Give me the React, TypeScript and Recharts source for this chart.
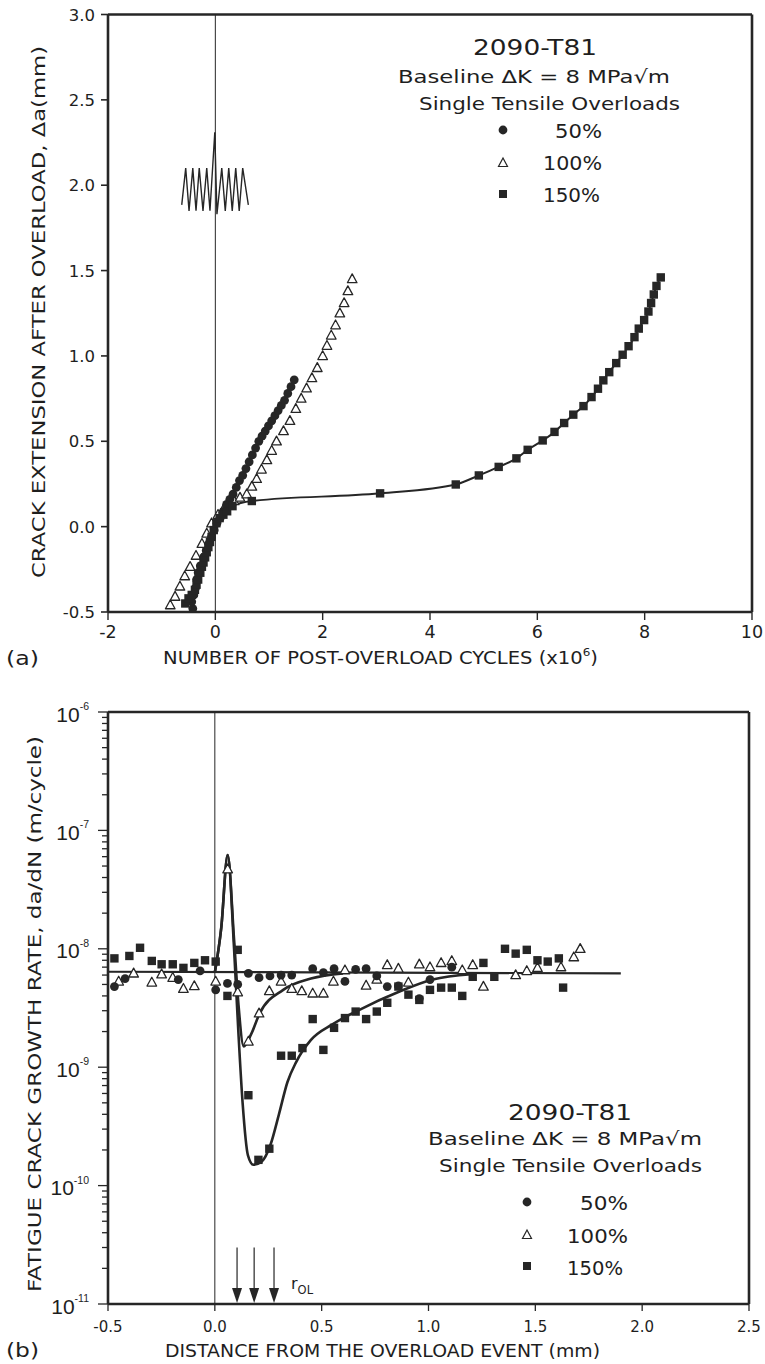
import React from 'react';
import { ComposedChart, XAxis, YAxis, Scatter, Line, ReferenceLine, ReferenceDot } from 'recharts';

const INK = '#262626';
const FONT = '"DejaVu Sans", "Liberation Sans", sans-serif';

// ---------- Chart (a): crack extension vs post-overload cycles ----------
const cycleTicksA = [-2, 0, 2, 4, 6, 8, 10];
const extTicksA = [-0.5, 0, 0.5, 1.0, 1.5, 2.0, 2.5, 3.0];

const ext50A = [
  { x: -0.42, y: -0.48 }, { x: -0.44, y: -0.44 }, { x: -0.40, y: -0.40 }, { x: -0.37, y: -0.36 },
  { x: -0.35, y: -0.31 }, { x: -0.32, y: -0.27 }, { x: -0.28, y: -0.23 }, { x: -0.22, y: -0.18 },
  { x: -0.17, y: -0.14 }, { x: -0.12, y: -0.10 }, { x: -0.07, y: -0.06 }, { x: -0.02, y: -0.02 },
  { x: 0.03, y: 0.02 }, { x: 0.09, y: 0.05 }, { x: 0.15, y: 0.09 }, { x: 0.21, y: 0.13 },
  { x: 0.27, y: 0.16 }, { x: 0.33, y: 0.19 }, { x: 0.39, y: 0.23 }, { x: 0.45, y: 0.27 },
  { x: 0.51, y: 0.30 }, { x: 0.57, y: 0.34 }, { x: 0.63, y: 0.38 }, { x: 0.69, y: 0.42 },
  { x: 0.75, y: 0.46 }, { x: 0.81, y: 0.50 }, { x: 0.87, y: 0.53 }, { x: 0.93, y: 0.56 },
  { x: 0.99, y: 0.59 }, { x: 1.05, y: 0.62 }, { x: 1.11, y: 0.65 }, { x: 1.17, y: 0.68 },
  { x: 1.23, y: 0.71 }, { x: 1.29, y: 0.74 }, { x: 1.35, y: 0.78 }, { x: 1.41, y: 0.82 },
  { x: 1.47, y: 0.86 },
];

const ext100A = [
  { x: -0.84, y: -0.46 }, { x: -0.75, y: -0.41 }, { x: -0.66, y: -0.35 }, { x: -0.57, y: -0.29 },
  { x: -0.47, y: -0.235 }, { x: -0.36, y: -0.17 }, { x: -0.25, y: -0.10 }, { x: -0.16, y: -0.04 },
  { x: -0.07, y: 0.02 }, { x: 0.05, y: 0.07 }, { x: 0.15, y: 0.10 }, { x: 0.25, y: 0.13 },
  { x: 0.35, y: 0.15 }, { x: 0.46, y: 0.17 }, { x: 0.585, y: 0.19 }, { x: 0.68, y: 0.235 },
  { x: 0.77, y: 0.28 }, { x: 0.86, y: 0.335 }, { x: 0.96, y: 0.39 }, { x: 1.05, y: 0.445 },
  { x: 1.14, y: 0.50 }, { x: 1.27, y: 0.56 }, { x: 1.39, y: 0.62 }, { x: 1.50, y: 0.69 },
  { x: 1.60, y: 0.75 }, { x: 1.70, y: 0.81 }, { x: 1.80, y: 0.87 }, { x: 1.90, y: 0.93 },
  { x: 2.00, y: 1.00 }, { x: 2.08, y: 1.06 }, { x: 2.16, y: 1.12 }, { x: 2.24, y: 1.18 },
  { x: 2.32, y: 1.25 }, { x: 2.40, y: 1.31 }, { x: 2.47, y: 1.38 }, { x: 2.55, y: 1.45 },
];

const ext150A = [
  { x: -0.56, y: -0.45 }, { x: -0.50, y: -0.42 }, { x: -0.44, y: -0.40 }, { x: -0.38, y: -0.37 },
  { x: -0.35, y: -0.34 }, { x: -0.32, y: -0.31 }, { x: -0.28, y: -0.27 }, { x: -0.25, y: -0.235 },
  { x: -0.22, y: -0.21 }, { x: -0.19, y: -0.18 }, { x: -0.16, y: -0.15 }, { x: -0.13, y: -0.12 },
  { x: -0.10, y: -0.09 }, { x: -0.07, y: -0.06 }, { x: -0.03, y: -0.02 }, { x: 0.02, y: 0.02 },
  { x: 0.08, y: 0.05 }, { x: 0.15, y: 0.07 }, { x: 0.22, y: 0.09 }, { x: 0.32, y: 0.12 },
  { x: 0.68, y: 0.15 }, { x: 3.07, y: 0.195 }, { x: 4.48, y: 0.247 }, { x: 4.91, y: 0.30 },
  { x: 5.28, y: 0.35 }, { x: 5.61, y: 0.40 }, { x: 5.82, y: 0.45 }, { x: 6.10, y: 0.505 },
  { x: 6.32, y: 0.555 }, { x: 6.50, y: 0.607 }, { x: 6.67, y: 0.656 }, { x: 6.86, y: 0.706 },
  { x: 7.01, y: 0.759 }, { x: 7.13, y: 0.808 }, { x: 7.23, y: 0.857 }, { x: 7.34, y: 0.905 },
  { x: 7.47, y: 0.958 }, { x: 7.59, y: 1.007 }, { x: 7.70, y: 1.057 }, { x: 7.81, y: 1.11 },
  { x: 7.89, y: 1.16 }, { x: 7.99, y: 1.21 }, { x: 8.07, y: 1.26 }, { x: 8.12, y: 1.31 },
  { x: 8.17, y: 1.36 }, { x: 8.22, y: 1.41 }, { x: 8.30, y: 1.46 },
];

// overload loading-history glyph (cyclic load with one overload spike)
const loadGlyphA = [
  { x: -0.626, y: 1.885 }, { x: -0.552, y: 2.10 }, { x: -0.49, y: 1.85 }, { x: -0.42, y: 2.10 },
  { x: -0.36, y: 1.85 }, { x: -0.30, y: 2.10 }, { x: -0.23, y: 1.85 }, { x: -0.16, y: 2.10 },
  { x: -0.10, y: 1.85 }, { x: -0.01, y: 2.31 }, { x: 0.03, y: 1.83 }, { x: 0.12, y: 2.10 },
  { x: 0.185, y: 1.85 }, { x: 0.25, y: 2.10 }, { x: 0.315, y: 1.85 }, { x: 0.38, y: 2.10 },
  { x: 0.445, y: 1.85 }, { x: 0.51, y: 2.10 }, { x: 0.615, y: 1.885 },
];

// ---------- Chart (b): growth rate vs distance ----------
const distTicksB = [-0.5, 0.0, 0.5, 1.0, 1.5, 2.0, 2.5];
const rateMajorB = [1e-11, 1e-10, 1e-9, 1e-8, 1e-7, 1e-6];
const rateMinorMult = [2, 3, 4, 5, 6, 7, 8, 9];

const rate50B = [
  { x: -0.47, y: 4.8e-9 }, { x: -0.42, y: 5.6e-9 }, { x: -0.171, y: 5.5e-9 }, { x: -0.069, y: 6.5e-9 },
  { x: 0.004, y: 4.5e-9 }, { x: 0.059, y: 5.1e-9 }, { x: 0.107, y: 5.0e-9 }, { x: 0.157, y: 6.2e-9 },
  { x: 0.207, y: 5.7e-9 }, { x: 0.258, y: 5.9e-9 }, { x: 0.31, y: 6.0e-9 }, { x: 0.36, y: 6.0e-9 },
  { x: 0.458, y: 6.8e-9 }, { x: 0.508, y: 6.3e-9 }, { x: 0.558, y: 6.8e-9 }, { x: 0.609, y: 5.3e-9 },
  { x: 0.659, y: 6.7e-9 }, { x: 0.708, y: 6.8e-9 }, { x: 0.758, y: 5.9e-9 }, { x: 0.807, y: 4.8e-9 },
  { x: 0.859, y: 4.85e-9 }, { x: 0.957, y: 3.8e-9 }, { x: 1.007, y: 5.5e-9 }, { x: 1.109, y: 7.0e-9 },
];

const rate100B = [
  { x: -0.45, y: 5.3e-9 }, { x: -0.38, y: 6.2e-9 }, { x: -0.295, y: 5.2e-9 }, { x: -0.249, y: 6.1e-9 },
  { x: -0.197, y: 5.7e-9 }, { x: -0.147, y: 4.6e-9 }, { x: -0.096, y: 4.85e-9 }, { x: 0.004, y: 5.3e-9 },
  { x: 0.06, y: 4.7e-8 }, { x: 0.107, y: 4.3e-9 }, { x: 0.157, y: 1.65e-9 }, { x: 0.207, y: 2.85e-9 },
  { x: 0.255, y: 4.4e-9 }, { x: 0.31, y: 5.3e-9 }, { x: 0.36, y: 4.6e-9 }, { x: 0.407, y: 4.4e-9 },
  { x: 0.458, y: 4.2e-9 }, { x: 0.508, y: 4.2e-9 }, { x: 0.555, y: 5.3e-9 }, { x: 0.609, y: 6.6e-9 },
  { x: 0.708, y: 4.9e-9 }, { x: 0.758, y: 5.5e-9 }, { x: 0.807, y: 7.3e-9 }, { x: 0.859, y: 6.8e-9 },
  { x: 0.906, y: 5.2e-9 }, { x: 0.957, y: 7.4e-9 }, { x: 1.007, y: 7.0e-9 }, { x: 1.059, y: 7.6e-9 },
  { x: 1.109, y: 7.9e-9 }, { x: 1.158, y: 6.6e-9 }, { x: 1.207, y: 7.3e-9 }, { x: 1.257, y: 4.8e-9 },
  { x: 1.408, y: 6.0e-9 }, { x: 1.46, y: 6.5e-9 }, { x: 1.51, y: 6.9e-9 }, { x: 1.62, y: 7.0e-9 },
  { x: 1.68, y: 8.5e-9 }, { x: 1.71, y: 1.0e-8 },
];

const rate150B = [
  { x: -0.47, y: 8.3e-9 }, { x: -0.40, y: 8.7e-9 }, { x: -0.35, y: 1.02e-8 }, { x: -0.295, y: 7.9e-9 },
  { x: -0.249, y: 7.4e-9 }, { x: -0.197, y: 7.4e-9 }, { x: -0.147, y: 6.9e-9 }, { x: -0.096, y: 7.6e-9 },
  { x: -0.046, y: 8.0e-9 }, { x: 0.004, y: 7.8e-9 }, { x: 0.059, y: 4.0e-9 }, { x: 0.107, y: 9.8e-9 },
  { x: 0.157, y: 5.8e-10 }, { x: 0.204, y: 1.65e-10 }, { x: 0.255, y: 2.05e-10 }, { x: 0.31, y: 1.25e-9 },
  { x: 0.36, y: 1.25e-9 }, { x: 0.41, y: 1.45e-9 }, { x: 0.458, y: 2.55e-9 }, { x: 0.508, y: 1.4e-9 },
  { x: 0.558, y: 2.15e-9 }, { x: 0.609, y: 2.6e-9 }, { x: 0.659, y: 2.95e-9 }, { x: 0.708, y: 2.55e-9 },
  { x: 0.758, y: 2.95e-9 }, { x: 0.807, y: 3.5e-9 }, { x: 0.859, y: 4.8e-9 }, { x: 0.906, y: 4.1e-9 },
  { x: 0.957, y: 3.7e-9 }, { x: 1.007, y: 4.5e-9 }, { x: 1.059, y: 4.7e-9 }, { x: 1.109, y: 4.7e-9 },
  { x: 1.158, y: 4.0e-9 }, { x: 1.207, y: 5.8e-9 }, { x: 1.257, y: 7.6e-9 }, { x: 1.308, y: 5.8e-9 },
  { x: 1.358, y: 1.0e-8 }, { x: 1.408, y: 9.1e-9 }, { x: 1.46, y: 9.8e-9 }, { x: 1.51, y: 8.0e-9 },
  { x: 1.558, y: 7.8e-9 }, { x: 1.61, y: 8.3e-9 }, { x: 1.63, y: 4.7e-9 },
];

const baselineFitB = [{ x: -0.5, y: 6.4e-9 }, { x: 1.9, y: 6.2e-9 }];
const fit100B = [
  { x: 0.0, y: 6.3e-9 }, { x: 0.03, y: 1.5e-8 }, { x: 0.06, y: 6.2e-8 }, { x: 0.09, y: 1.2e-8 },
  { x: 0.11, y: 3.5e-9 }, { x: 0.135, y: 1.5e-9 }, { x: 0.17, y: 1.9e-9 }, { x: 0.21, y: 2.85e-9 },
  { x: 0.32, y: 4.5e-9 }, { x: 0.45, y: 5.6e-9 }, { x: 0.6, y: 6.2e-9 },
];
const fit150B = [
  { x: 0.0, y: 6.3e-9 }, { x: 0.03, y: 1.5e-8 }, { x: 0.06, y: 6.2e-8 }, { x: 0.09, y: 1.0e-8 },
  { x: 0.11, y: 2.0e-9 }, { x: 0.13, y: 5.0e-10 }, { x: 0.155, y: 1.8e-10 }, { x: 0.18, y: 1.5e-10 },
  { x: 0.22, y: 1.6e-10 }, { x: 0.26, y: 2.2e-10 }, { x: 0.30, y: 4.0e-10 }, { x: 0.34, y: 7.5e-10 },
  { x: 0.38, y: 1.1e-9 }, { x: 0.45, y: 1.7e-9 }, { x: 0.55, y: 2.3e-9 }, { x: 0.66, y: 2.95e-9 },
  { x: 0.87, y: 4.4e-9 }, { x: 1.02, y: 5.5e-9 }, { x: 1.2, y: 6.1e-9 },
];
// overload plastic-zone sizes r_OL (mm) for 50%, 100%, 150%
const rOL = [0.104, 0.184, 0.277];

// ---------- marker shapes ----------
const dotShape = (p: any) => <circle cx={p.cx} cy={p.cy} r={4.4} fill={INK} />;
const triShape = (p: any) => (
  <polygon
    points={`${p.cx},${p.cy - 5.2} ${p.cx - 4.8},${p.cy + 3.6} ${p.cx + 4.8},${p.cy + 3.6}`}
    fill="#fff" stroke={INK} strokeWidth={1.3} strokeLinejoin="round"
  />
);
const sqShape = (p: any) => <rect x={p.cx - 4.2} y={p.cy - 4.2} width={8.4} height={8.4} fill={INK} />;

// ---------- ticks ----------
const TickYA = (p: any) => (
  <g>
    <line x1={p.x - 7} x2={p.x} y1={p.y} y2={p.y} stroke={INK} strokeWidth={1.6} />
    <text x={p.x - 13} y={p.y + 6} textAnchor="end" fontSize={16.5} fontFamily={FONT} fill="#1e1e1e">
      {Number(p.payload.value).toFixed(1)}
    </text>
  </g>
);
const TickXA = (p: any) => (
  <g>
    <line x1={p.x} x2={p.x} y1={p.y} y2={p.y + 8} stroke={INK} strokeWidth={1.4} />
    <text x={p.x} y={p.y + 26} textAnchor="middle" fontSize={17.5} fontFamily={FONT} fill="#1e1e1e">
      {p.payload.value}
    </text>
  </g>
);
const TickYB = (p: any) => {
  const v = Number(p.payload.value);
  const e = Math.round(Math.log10(v));
  const major = Math.abs(v - Math.pow(10, e)) / v < 1e-6;
  return (
    <g>
      <line x1={p.x - (major ? 10 : 6)} x2={p.x} y1={p.y} y2={p.y} stroke={INK} strokeWidth={1.3} />
      {major && (
        <text x={p.x - 19} y={p.y + 9.5} textAnchor="end" fontSize={21}
          fontFamily='"Liberation Sans", Arial, sans-serif' fill="#1e1e1e">
          10<tspan dy={-11.5} fontSize={10.5}>{String(e)}</tspan>
        </text>
      )}
    </g>
  );
};
const TickXB = (p: any) => (
  <g>
    <line x1={p.x} x2={p.x} y1={p.y} y2={p.y + 7} stroke={INK} strokeWidth={1.3} />
    <text x={p.x} y={p.y + 28} textAnchor="middle" fontSize={15} fontFamily={FONT} fill="#1e1e1e">
      {Number(p.payload.value).toFixed(1)}
    </text>
  </g>
);

const rateTicksB: number[] = [];
rateMajorB.forEach((m, i) => {
  rateTicksB.push(m);
  if (i < rateMajorB.length - 1) rateMinorMult.forEach((k) => rateTicksB.push(m * k));
});

const arrowHead = (p: any) => (
  <polygon points={`${p.cx - 5},${p.cy - 16} ${p.cx + 5},${p.cy - 16} ${p.cx},${p.cy - 1}`} fill={INK} />
);

function ChartA() {
  return (
    <ComposedChart width={765} height={680} margin={{ top: 14.5, right: 13, bottom: 28, left: 48 }}>
      <XAxis type="number" dataKey="x" domain={[-2, 10]} ticks={cycleTicksA} interval={0}
        allowDataOverflow tickLine={false} tickSize={0} tickMargin={0} height={40}
        axisLine={{ stroke: INK, strokeWidth: 2.6 }} tick={<TickXA />} />
      <YAxis type="number" dataKey="y" domain={[-0.5, 3]} ticks={extTicksA} interval={0}
        allowDataOverflow tickLine={false} tickSize={0} tickMargin={0} width={60}
        axisLine={{ stroke: INK, strokeWidth: 2.6 }} tick={<TickYA />} />
      <ReferenceLine y={3} stroke={INK} strokeWidth={2.6} />
      <ReferenceLine x={10} stroke={INK} strokeWidth={2.6} />
      <ReferenceLine x={0} stroke={INK} strokeWidth={1} />
      <Line data={loadGlyphA} dataKey="y" type="linear" stroke={INK} strokeWidth={1.4}
        dot={false} isAnimationActive={false} />
      <Line data={ext150A} dataKey="y" type="monotone" stroke={INK} strokeWidth={2}
        dot={false} isAnimationActive={false} />
      <Scatter data={ext100A} dataKey="y" shape={triShape} isAnimationActive={false} />
      <Scatter data={ext50A} dataKey="y" shape={dotShape} isAnimationActive={false} />
      <Scatter data={ext150A} dataKey="y" shape={sqShape} isAnimationActive={false} />
    </ComposedChart>
  );
}

function ChartB() {
  return (
    <ComposedChart width={765} height={684} margin={{ top: 32, right: 16, bottom: 20, left: 48 }}>
      <XAxis type="number" dataKey="x" domain={[-0.5, 2.5]} ticks={distTicksB} interval={0}
        allowDataOverflow tickLine={false} tickSize={0} tickMargin={0} height={40}
        axisLine={{ stroke: INK, strokeWidth: 2.6 }} tick={<TickXB />} />
      <YAxis type="number" dataKey="y" scale="log" domain={[1e-11, 1e-6]} ticks={rateTicksB}
        interval={0} allowDataOverflow tickLine={false} tickSize={0} tickMargin={0} width={60}
        axisLine={{ stroke: INK, strokeWidth: 2.6 }} tick={<TickYB />} />
      <ReferenceLine y={1e-6} stroke={INK} strokeWidth={2.6} />
      <ReferenceLine x={2.5} stroke={INK} strokeWidth={2.6} />
      <ReferenceLine x={0} stroke={INK} strokeWidth={1} />
      {rOL.map((r) => (
        <ReferenceLine key={'l' + r} segment={[{ x: r, y: 3.0e-11 }, { x: r, y: 1.3e-11 }]}
          stroke={INK} strokeWidth={1.2} />
      ))}
      {rOL.map((r) => (
        <ReferenceDot key={'d' + r} x={r} y={1e-11} shape={arrowHead} />
      ))}
      <Line data={baselineFitB} dataKey="y" type="linear" stroke={INK} strokeWidth={2.2}
        dot={false} isAnimationActive={false} />
      <Line data={fit150B} dataKey="y" type="monotone" stroke={INK} strokeWidth={2.6}
        dot={false} isAnimationActive={false} />
      <Line data={fit100B} dataKey="y" type="monotone" stroke={INK} strokeWidth={2.6}
        dot={false} isAnimationActive={false} />
      <Scatter data={rate100B} dataKey="y" shape={triShape} isAnimationActive={false} />
      <Scatter data={rate50B} dataKey="y" shape={dotShape} isAnimationActive={false} />
      <Scatter data={rate150B} dataKey="y" shape={sqShape} isAnimationActive={false} />
    </ComposedChart>
  );
}

const T = (props: any) => <text fontFamily={FONT} fill="#1e1e1e" {...props} />;

function LegendBlock({ cx, titleY, lines, markX, rows }: any) {
  return (
    <g>
      <T x={cx} y={titleY} fontSize={21} textAnchor="middle" textLength={124} lengthAdjust="spacingAndGlyphs">2090-T81</T>
      <T x={lines[0].x} y={lines[0].y} fontSize={18.5} textLength={lines[0].w} lengthAdjust="spacingAndGlyphs">Baseline ΔK = 8 MPa√m</T>
      <T x={lines[1].x} y={lines[1].y} fontSize={18.5} textLength={lines[1].w} lengthAdjust="spacingAndGlyphs">Single Tensile Overloads</T>
      <circle cx={markX} cy={rows[0].my} r={4.4} fill={INK} />
      <polygon points={`${markX},${rows[1].my - 5} ${markX - 4.5},${rows[1].my + 3.5} ${markX + 4.5},${rows[1].my + 3.5}`} fill="#fff" stroke={INK} strokeWidth={1.2} />
      <rect x={markX - 4} y={rows[2].my - 4} width={8} height={8} fill={INK} />
      <T x={rows[0].tx} y={rows[0].ty} fontSize={19.5} textLength={rows[0].w} lengthAdjust="spacingAndGlyphs">50%</T>
      <T x={rows[1].tx} y={rows[1].ty} fontSize={19.5} textLength={rows[1].w} lengthAdjust="spacingAndGlyphs">100%</T>
      <T x={rows[2].tx} y={rows[2].ty} fontSize={19.5} textLength={rows[2].w} lengthAdjust="spacingAndGlyphs">150%</T>
    </g>
  );
}

export default function App() {
  return (
    <div style={{ position: 'absolute', left: 0, top: 0, width: 765, height: 1364, background: '#fff' }}>
      <div style={{ position: 'absolute', left: 0, top: 0 }}><ChartA /></div>
      <div style={{ position: 'absolute', left: 0, top: 680 }}><ChartB /></div>
      <svg width={765} height={1364} style={{ position: 'absolute', left: 0, top: 0, pointerEvents: 'none' }}>
        {/* axis titles */}
        <T transform="translate(45,312) rotate(-90)" fontSize={17} textAnchor="middle" textLength={532} lengthAdjust="spacingAndGlyphs">CRACK EXTENSION AFTER OVERLOAD, Δa(mm)</T>
        <T x={163} y={664} fontSize={18} textLength={435} lengthAdjust="spacingAndGlyphs">NUMBER OF POST-OVERLOAD CYCLES (x10<tspan dy={-8} fontSize={11}>6</tspan><tspan dy={8}>)</tspan></T>
        <T x={6} y={665} fontSize={20} textLength={33} lengthAdjust="spacingAndGlyphs">(a)</T>
        <T transform="translate(41,1014) rotate(-90)" fontSize={18.5} textAnchor="middle" textLength={556} lengthAdjust="spacingAndGlyphs">FATIGUE CRACK GROWTH RATE, da/dN (m/cycle)</T>
        <T x={165} y={1357} fontSize={18} textLength={435} lengthAdjust="spacingAndGlyphs">DISTANCE FROM THE OVERLOAD EVENT (mm)</T>
        <T x={6} y={1357} fontSize={20} textLength={33} lengthAdjust="spacingAndGlyphs">(b)</T>
        {/* r_OL label */}
        <T x={291} y={1289} fontSize={16}>r<tspan dy={5} fontSize={11.5}>OL</tspan></T>
        {/* legend/annotation blocks */}
        <LegendBlock cx={535} titleY={55}
          lines={[{ x: 398, y: 83, w: 272 }, { x: 419, y: 110, w: 261 }]}
          markX={503}
          rows={[{ my: 130, tx: 555, ty: 138, w: 47 }, { my: 163, tx: 543, ty: 170, w: 59 }, { my: 194, tx: 543, ty: 202, w: 57 }]} />
        <LegendBlock cx={570} titleY={1120}
          lines={[{ x: 428, y: 1145, w: 274 }, { x: 439, y: 1172, w: 263 }]}
          markX={527}
          rows={[{ my: 1202, tx: 580, ty: 1210, w: 48 }, { my: 1235, tx: 567, ty: 1243, w: 61 }, { my: 1266, tx: 567, ty: 1275, w: 56 }]} />
      </svg>
    </div>
  );
}
